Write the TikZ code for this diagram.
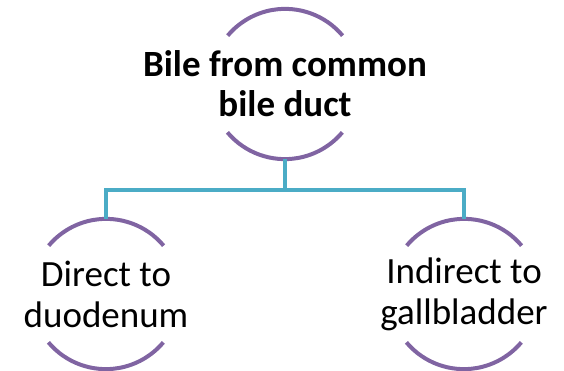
\documentclass[tikz,border=0pt]{standalone}
\usepackage{fontspec}
\setmainfont{Carlito}
\definecolor{arcpurple}{HTML}{8064A2}
\definecolor{linkblue}{HTML}{4BACC6}
\tikzset{
  holder/.style={circle, minimum size=150pt, inner sep=0pt},
  ring/.style={draw=arcpurple, line width=4pt},
  label/.style={align=center, inner sep=0pt, font=\fontsize{37}{41}\selectfont},
  link/.style={draw=linkblue, line width=4pt}
}
\begin{document}
\begin{tikzpicture}[x=1pt,y=-1pt]
\useasboundingbox (0,0) rectangle (564,371);
\node[holder] (top) at (285,84) {};
\node[holder] (left) at (106,294) {};
\node[holder] (right) at (464,294) {};
\foreach \n in {top,left,right}{
  \draw[ring] (\n.40) arc[start angle=40, end angle=140, radius=75pt];
  \draw[ring] (\n.-140) arc[start angle=-140, end angle=-40, radius=75pt];
}
\node[label, font=\fontsize{37}{40}\selectfont\bfseries] (toptext) at (top) {Bile from common\\bile duct};
\node[label] (lefttext) at (left) {Direct to\\duodenum};
\node[label] (righttext) at (right) {Indirect to\\gallbladder};
\coordinate (hub) at (285,190);
\draw[link] (top.south) -- (hub);
\draw[link] (left.north) |- (hub) -| (right.north);
\end{tikzpicture}
\end{document}
